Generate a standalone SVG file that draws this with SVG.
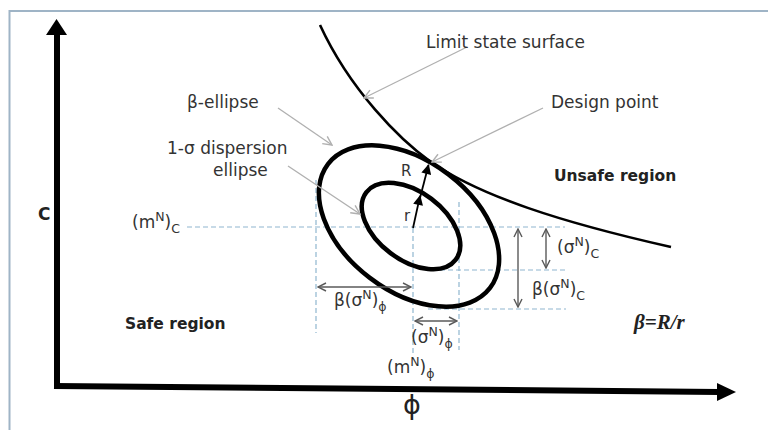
<svg xmlns="http://www.w3.org/2000/svg" width="768" height="430" viewBox="0 0 768 430">
  <defs>
    <style>
      .lbl { font-family: "DejaVu Sans", "Liberation Sans", sans-serif; font-size: 17px; fill: #333; }
      .bold { font-family: "DejaVu Sans", "Liberation Sans", sans-serif; font-size: 15.5px; font-weight: bold; fill: #222; }
      .sub { font-size: 12.5px; fill: #333; }
      .dash { fill: none; stroke: #8fb6cf; stroke-width: 1.2; stroke-dasharray: 5 3; }
      .dim { fill: none; stroke: #5a5a5a; stroke-width: 1.4; marker-start: url(#open); marker-end: url(#open); }
      .leader { fill: none; stroke: #b0b0b0; stroke-width: 1.3; marker-end: url(#openLight); }
      .ell { fill: none; stroke: #000; stroke-width: 4.5; }
      .vec { fill: none; stroke: #000; stroke-width: 1.8; }
    </style>
    <marker id="open" viewBox="0 0 10 10" refX="9" refY="5" markerWidth="10" markerHeight="10" markerUnits="userSpaceOnUse" orient="auto-start-reverse">
      <path d="M1,1 L9,5 L1,9" fill="none" stroke="#5a5a5a" stroke-width="1.4"/>
    </marker>
    <marker id="openLight" viewBox="0 0 10 10" refX="9" refY="5" markerWidth="11" markerHeight="11" markerUnits="userSpaceOnUse" orient="auto">
      <path d="M1,1 L9,5 L1,9" fill="none" stroke="#b0b0b0" stroke-width="1.3"/>
    </marker>
    <marker id="solid" viewBox="0 0 10 10" refX="9" refY="5" markerWidth="11" markerHeight="10" markerUnits="userSpaceOnUse" orient="auto">
      <path d="M0,0 L10,5 L0,10 Z" fill="#000"/>
    </marker>
  </defs>

  <rect width="768" height="430" fill="#fff"/>
  <!-- frame -->
  <rect id="frame" x="9.5" y="11" width="780" height="440" fill="none" stroke="#9fb4c6" stroke-width="2"/>

  <!-- axes -->
  <g id="axes">
    <line x1="57" y1="33" x2="57" y2="389" stroke="#000" stroke-width="6"/>
    <polygon points="46,35 56.5,19 67,35" fill="#000"/>
    <line x1="54" y1="386" x2="719" y2="392" stroke="#000" stroke-width="6"/>
    <polygon points="717,383 736,392 717,401" fill="#000"/>
    <text x="38" y="220" class="bold" style="font-size:17px">C</text>
    <text x="412" y="414" text-anchor="middle" style="font-family:'DejaVu Sans',sans-serif;font-size:27px;fill:#222">ϕ</text>
  </g>

  <!-- dashed guide lines -->
  <g id="guides">
    <line class="dash" x1="187" y1="227" x2="565" y2="227"/>
    <line class="dash" x1="432" y1="270" x2="567" y2="270"/>
    <line class="dash" x1="428" y1="309" x2="566" y2="309"/>
    <line class="dash" x1="316" y1="180" x2="316" y2="333"/>
    <line class="dash" x1="413" y1="228" x2="413" y2="355"/>
    <line class="dash" x1="459" y1="202" x2="459" y2="350"/>
  </g>

  <!-- limit state surface -->
  <g id="limit-state">
    <path d="M320,25 C350,90 400,140 431,162 C480,196 560,222 671,247" fill="none" stroke="#000" stroke-width="2.6"/>
  </g>

  <!-- ellipses -->
  <g id="beta-ellipse">
    <ellipse class="ell" cx="409" cy="226" rx="102" ry="65" transform="rotate(37.4 409 226)"/>
  </g>
  <g id="sigma-ellipse">
    <ellipse class="ell" cx="411" cy="226" rx="56" ry="34" transform="rotate(37 411 226)"/>
  </g>

  <!-- connectors -->
  <g id="connectors">
    <line class="vec" x1="413" y1="228" x2="420" y2="196" marker-end="url(#solid)"/>
    <line class="vec" x1="420" y1="198" x2="428.5" y2="165" marker-end="url(#solid)"/>
    <line class="leader" x1="467" y1="47" x2="364" y2="98"/>
    <line class="leader" x1="543" y1="108" x2="432" y2="162"/>
    <line class="leader" x1="278" y1="108" x2="332" y2="145"/>
    <line class="leader" x1="288" y1="166" x2="360" y2="214"/>
    <line class="dim" x1="318" y1="287" x2="411" y2="287"/>
    <line class="dim" x1="415" y1="321" x2="457" y2="321"/>
    <line class="dim" x1="546" y1="229" x2="546" y2="268"/>
    <line class="dim" x1="518" y1="229" x2="518" y2="307"/>
  </g>

  <!-- labels -->
  <g id="labels">
    <text class="lbl" x="426" y="48">Limit state surface</text>
    <text class="lbl" x="551" y="108">Design point</text>
    <text class="bold" x="554" y="181">Unsafe region</text>
    <text class="lbl" x="187" y="108">β-ellipse</text>
    <text class="lbl" x="167" y="154">1-σ dispersion</text>
    <text class="lbl" x="213" y="176">ellipse</text>
    <text class="lbl" x="401" y="176" style="font-size:15px">R</text>
    <text class="lbl" x="404" y="221" style="font-size:15px">r</text>
    <text class="bold" x="125" y="329">Safe region</text>
    <text x="634" y="329" style="font-family:'Liberation Serif',serif;font-size:21px;font-style:italic;font-weight:bold;fill:#222">β=R/r</text>
    <text class="lbl" x="132" y="228">(m<tspan class="sub" dy="-7">N</tspan><tspan dy="7">)</tspan><tspan class="sub" dy="5">C</tspan></text>
    <text class="lbl" x="334" y="306">β(σ<tspan class="sub" dy="-7">N</tspan><tspan dy="7">)</tspan><tspan class="sub" dy="5">ϕ</tspan></text>
    <text class="lbl" x="411" y="343">(σ<tspan class="sub" dy="-7">N</tspan><tspan dy="7">)</tspan><tspan class="sub" dy="5">ϕ</tspan></text>
    <text class="lbl" x="387" y="373">(m<tspan class="sub" dy="-7">N</tspan><tspan dy="7">)</tspan><tspan class="sub" dy="5">ϕ</tspan></text>
    <text class="lbl" x="557" y="253">(σ<tspan class="sub" dy="-7">N</tspan><tspan dy="7">)</tspan><tspan class="sub" dy="5">C</tspan></text>
    <text class="lbl" x="532" y="295">β(σ<tspan class="sub" dy="-7">N</tspan><tspan dy="7">)</tspan><tspan class="sub" dy="5">C</tspan></text>
  </g>
</svg>
